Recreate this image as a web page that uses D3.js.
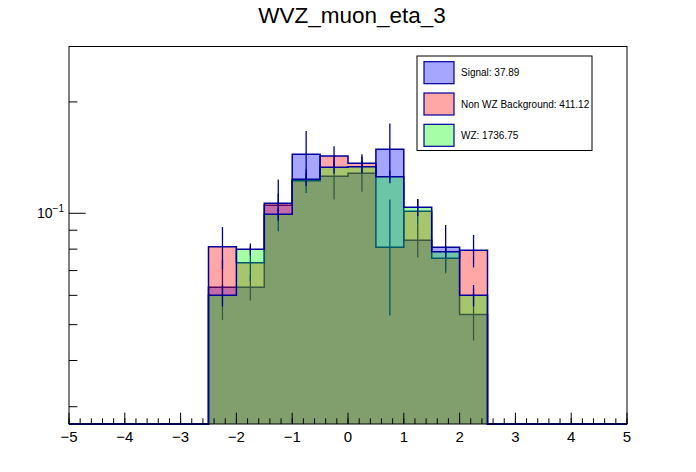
<!DOCTYPE html>
<html>
<head>
<meta charset="utf-8">
<script src="https://cdn.jsdelivr.net/npm/d3@7"></script>
<style>
  body { margin: 0; background: #fff; }
  text { font-family: "Liberation Sans", Arial, sans-serif; }
</style>
</head>
<body>
<div id="chart"></div>
<script>
      // bins are 0.5 wide, only -2.5..2.5 are filled
      var binLow = [-2.5, -2, -1.5, -1, -0.5, 0, 0.5, 1, 1.5, 2];
      var binWidth = 0.5;
      var signal    = [0.0631, 0.0631, 0.1051, 0.1443, 0.1259, 0.1283, 0.1489, 0.0846, 0.0809, 0.0533];
      var signalErr = [0.0116, 0.0050, 0.0080, 0.0226, 0.0170, 0.0140, 0.0260, 0.0087, 0.0120, 0.0080];
      var bkg       = [0.0812, 0.0735, 0.1064, 0.1225, 0.1428, 0.1365, 0.0809, 0.1012, 0.0756, 0.0794];
      var bkgErr    = [0.0106, 0.0080, 0.0170, 0.0090, 0.0090, 0.0080, 0.0280, 0.0080, 0.0060, 0.0080];
      var wz        = [0.0600, 0.0799, 0.0994, 0.1236, 0.1331, 0.1336, 0.1256, 0.1038, 0.0787, 0.0600];
      var wzErr     = [0.0040, 0.0030, 0.0040, 0.0050, 0.0050, 0.0050, 0.0050, 0.0055, 0.0030, 0.0040];
      var legendLabels = ["Signal: 37.89", "Non WZ Background: 411.12", "WZ: 1736.75"];
      var xMajor = [-5, -4, -3, -2, -1, 0, 1, 2, 3, 4, 5];
      var yMinor = [0.03, 0.04, 0.05, 0.06, 0.07, 0.08, 0.09, 0.2];
      var yMajor = [0.1];

      var width = 696;
      var height = 472;
      var frame = { left: 69, right: 627, top: 46.5, bottom: 424 };
      var lineColor = "#000099";

      var svg = d3.select('#chart').append("svg")
                  .attr('width', width)
                  .attr('height', height);
      svg.append('rect').attr('width', width).attr('height', height).attr('fill', '#fff');

      var x = d3.scaleLinear().domain([-5, 5]).range([frame.left, frame.right]);
      var y = d3.scaleLog().domain([0.02694, 0.2824]).range([frame.bottom, frame.top]).clamp(true);
      var yMin = y.domain()[0];

      // step points: empty region, filled bins, empty region
      function steps(vals) {
        var pts = [{ x: -5, v: yMin }];
        vals.forEach(function(v, i) { pts.push({ x: binLow[i], v: v }); });
        pts.push({ x: binLow[binLow.length - 1] + binWidth, v: yMin });
        pts.push({ x: 5, v: yMin });
        return pts;
      }
      var area = d3.area().curve(d3.curveStepAfter)
                   .x(function(d){ return x(d.x); })
                   .y0(y(yMin))
                   .y1(function(d){ return y(d.v); });
      var line = d3.line().curve(d3.curveStepAfter)
                   .x(function(d){ return x(d.x); })
                   .y(function(d){ return y(d.v); });

      var hists = [
        { vals: signal, errs: signalErr, fill: "rgba(0,0,255,0.35)" },
        { vals: bkg, errs: bkgErr, fill: "rgba(255,0,0,0.35)" },
        { vals: wz, errs: wzErr, fill: "rgba(0,255,0,0.35)" }
      ];

      var plot = svg.append('g');
      hists.forEach(function(h) {
        var pts = steps(h.vals);
        plot.append('path').datum(pts)
            .attr('d', area)
            .attr('fill', h.fill);
        plot.append('path').datum(pts)
            .attr('d', line)
            .attr('fill', 'none')
            .attr('stroke', lineColor)
            .attr('stroke-width', 1.5);
        plot.selectAll(null).data(h.vals).enter().append('line')
            .attr('x1', function(d, i){ return x(binLow[i] + binWidth / 2); })
            .attr('x2', function(d, i){ return x(binLow[i] + binWidth / 2); })
            .attr('y1', function(d, i){ return y(d + h.errs[i]); })
            .attr('y2', function(d, i){ return y(d - h.errs[i]); })
            .attr('stroke', lineColor)
            .attr('stroke-width', 1.3);
      });

      // frame
      svg.append('rect')
         .attr('x', frame.left).attr('y', frame.top)
         .attr('width', frame.right - frame.left)
         .attr('height', frame.bottom - frame.top)
         .attr('fill', 'none').attr('stroke', '#000').attr('stroke-width', 1);

      // x axis ticks (ROOT style, inside the frame)
      var xMinor = d3.range(-50, 51, 2).map(function(d){ return d / 10; });
      var axisX = svg.append('g').attr('class', 'x axis');
      axisX.selectAll(null).data(xMinor).enter().append('line')
           .attr('x1', function(d){ return x(d); }).attr('x2', function(d){ return x(d); })
           .attr('y1', frame.bottom).attr('y2', frame.bottom - 5.7)
           .attr('stroke', '#000');
      axisX.selectAll(null).data(xMajor).enter().append('line')
           .attr('x1', function(d){ return x(d); }).attr('x2', function(d){ return x(d); })
           .attr('y1', frame.bottom).attr('y2', frame.bottom - 11.3)
           .attr('stroke', '#000');
      axisX.selectAll(null).data(xMajor).enter().append('text')
           .attr('x', function(d){ return x(d); })
           .attr('y', frame.bottom + 18)
           .attr('text-anchor', 'middle')
           .attr('font-size', 15)
           .text(function(d){ return d < 0 ? "\u2212" + (-d) : d; });

      // y axis ticks (log)
      var axisY = svg.append('g').attr('class', 'y axis');
      axisY.selectAll(null).data(yMinor).enter().append('line')
           .attr('x1', frame.left).attr('x2', frame.left + 8.4)
           .attr('y1', function(d){ return y(d); }).attr('y2', function(d){ return y(d); })
           .attr('stroke', '#000');
      axisY.selectAll(null).data(yMajor).enter().append('line')
           .attr('x1', frame.left).attr('x2', frame.left + 16.7)
           .attr('y1', function(d){ return y(d); }).attr('y2', function(d){ return y(d); })
           .attr('stroke', '#000');
      var yLab = axisY.selectAll(null).data(yMajor).enter().append('text')
           .attr('x', 37)
           .attr('y', function(d){ return y(d) + 5; })
           .attr('font-size', 14);
      yLab.append('tspan').text("10");
      yLab.append('tspan').attr('dy', -6).attr('font-size', 10)
          .text(function(d){ return "\u2212" + (-Math.round(Math.log10(d))); });

      // title
      svg.append('text')
         .attr('x', 352).attr('y', 22.5)
         .attr('text-anchor', 'middle')
         .attr('font-size', 22.5)
         .text("WVZ_muon_eta_3");

      // legend
      var leg = svg.append('g').attr('transform', 'translate(417,56)');
      leg.append('rect').attr('width', 175).attr('height', 94.5)
         .attr('fill', '#fff').attr('stroke', '#000').attr('stroke-width', 1);
      var rows = leg.selectAll(null).data(hists).enter().append('g')
         .attr('transform', function(d, i){ return 'translate(7,' + (5.7 + i * 31.3) + ')'; });
      rows.append('rect').attr('width', 30).attr('height', 22)
          .attr('fill', function(d){ return d.fill; })
          .attr('stroke', lineColor).attr('stroke-width', 1.2);
      rows.append('text')
          .attr('x', 37).attr('y', 14.5)
          .attr('font-size', 10)
          .text(function(d, i){ return legendLabels[i]; });
</script>
</body>
</html>
